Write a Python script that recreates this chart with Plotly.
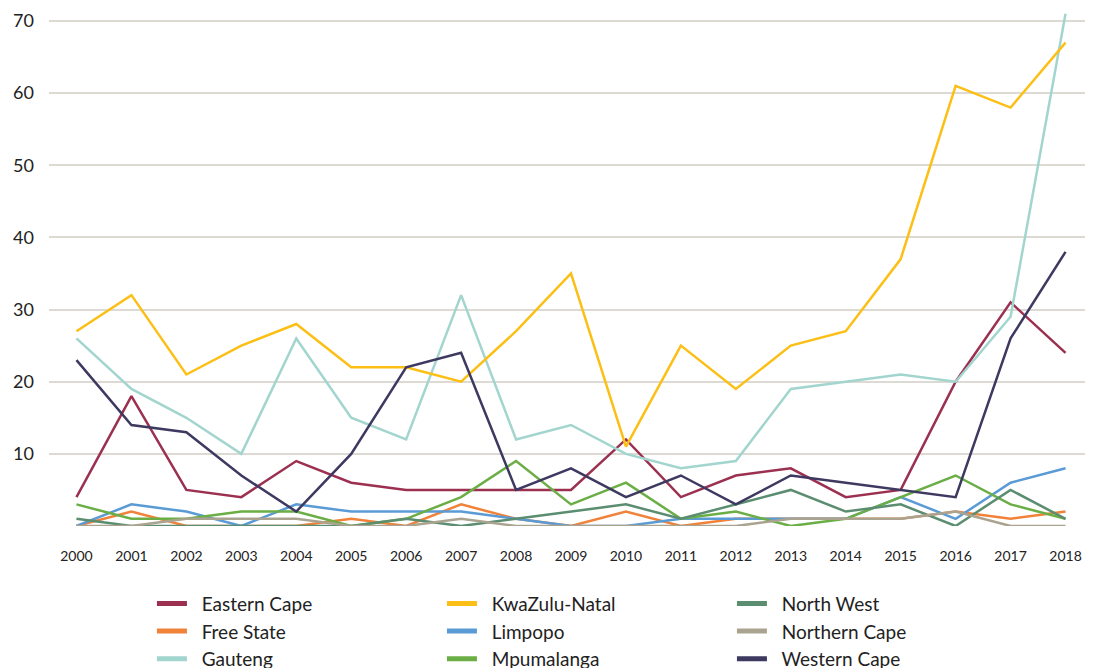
import plotly.graph_objects as go

years = list(range(2000, 2019))

# 各省数值
eastern_cape = [4, 18, 5, 4, 9, 6, 5, 5, 5, 5, 12, 4, 7, 8, 4, 5, 20, 31, 24]
free_state = [0, 2, 0, 0, 0, 1, 0, 3, 1, 0, 2, 0, 1, 1, 1, 1, 2, 1, 2]
gauteng = [26, 19, 15, 10, 26, 15, 12, 32, 12, 14, 10, 8, 9, 19, 20, 21, 20, 29, 71]
kwazulu_natal = [27, 32, 21, 25, 28, 22, 22, 20, 27, 35, 11, 25, 19, 25, 27, 37, 61, 58, 67]
limpopo = [0, 3, 2, 0, 3, 2, 2, 2, 1, 0, 0, 1, 1, 1, 1, 4, 1, 6, 8]
mpumalanga = [3, 1, 1, 2, 2, 0, 1, 4, 9, 3, 6, 1, 2, 0, 1, 4, 7, 3, 1]
north_west = [1, 0, 0, 0, 0, 0, 1, 0, 1, 2, 3, 1, 3, 5, 2, 3, 0, 5, 1]
northern_cape = [0, 0, 1, 1, 1, 0, 0, 1, 0, 0, 0, 0, 0, 1, 1, 1, 2, 0, 0]
western_cape = [23, 14, 13, 7, 2, 10, 22, 24, 5, 8, 4, 7, 3, 7, 6, 5, 4, 26, 38]

y_ticks = [0, 10, 20, 30, 40, 50, 60, 70]

series = [
    ("Eastern Cape", eastern_cape, "#9b3050", 1),
    ("Free State", free_state, "#f0823a", 4),
    ("Gauteng", gauteng, "#a3d5cf", 7),
    ("KwaZulu-Natal", kwazulu_natal, "#fcbf15", 2),
    ("Limpopo", limpopo, "#5b9bd5", 5),
    ("Mpumalanga", mpumalanga, "#6aae45", 8),
    ("North West", north_west, "#5b8d70", 3),
    ("Northern Cape", northern_cape, "#a9a38f", 6),
    ("Western Cape", western_cape, "#3d3960", 9),
]

fig = go.Figure()
for name, vals, color, rank in series:
    fig.add_trace(go.Scatter(
        x=years, y=vals, mode="lines", name=name,
        line=dict(color=color, width=2.5),
        showlegend=False,
    ))

# 图例用的粗线（不画数据），名字前加不换行空格拉开间距
for name, vals, color, rank in series:
    fig.add_trace(go.Scatter(
        x=[None], y=[None], mode="lines", name="\u00a0\u00a0" + name,
        line=dict(color=color, width=5),
        legendrank=rank,
    ))

# 页面 body 有 8px 边距，所以整体尺寸减 8
fig.update_layout(
    width=1085, height=660,
    margin=dict(l=41, r=0, t=0, b=142, autoexpand=False),
    plot_bgcolor="white", paper_bgcolor="white",
    font=dict(family="Lato", color="#222222"),
    showlegend=True,
    legend=dict(
        orientation="h",
        x=0.0986, xanchor="left",
        y=-0.113, yanchor="top",
        entrywidth=245,
        font=dict(size=19, family="Lato", color="#222222"),
        itemwidth=30,
    ),
)

fig.update_xaxes(
    range=[1999.5, 2018.5],
    tickvals=years,
    tickfont=dict(size=14, family="Lato", color="#222222"),
    showgrid=False, zeroline=False, showline=False,
    ticks="", ticklabelstandoff=20, automargin=False,
)
fig.update_yaxes(
    range=[0, 71.8],
    tickvals=y_ticks,
    ticktext=["" if v == 0 else str(v) for v in y_ticks],
    tickfont=dict(size=18, family="Lato", color="#222222"),
    showgrid=True, gridcolor="#dcdad3", gridwidth=1.5,
    zeroline=False, showline=False,
    ticks="", ticklabelstandoff=14, automargin=False,
)

fig.write_html("out.html")
